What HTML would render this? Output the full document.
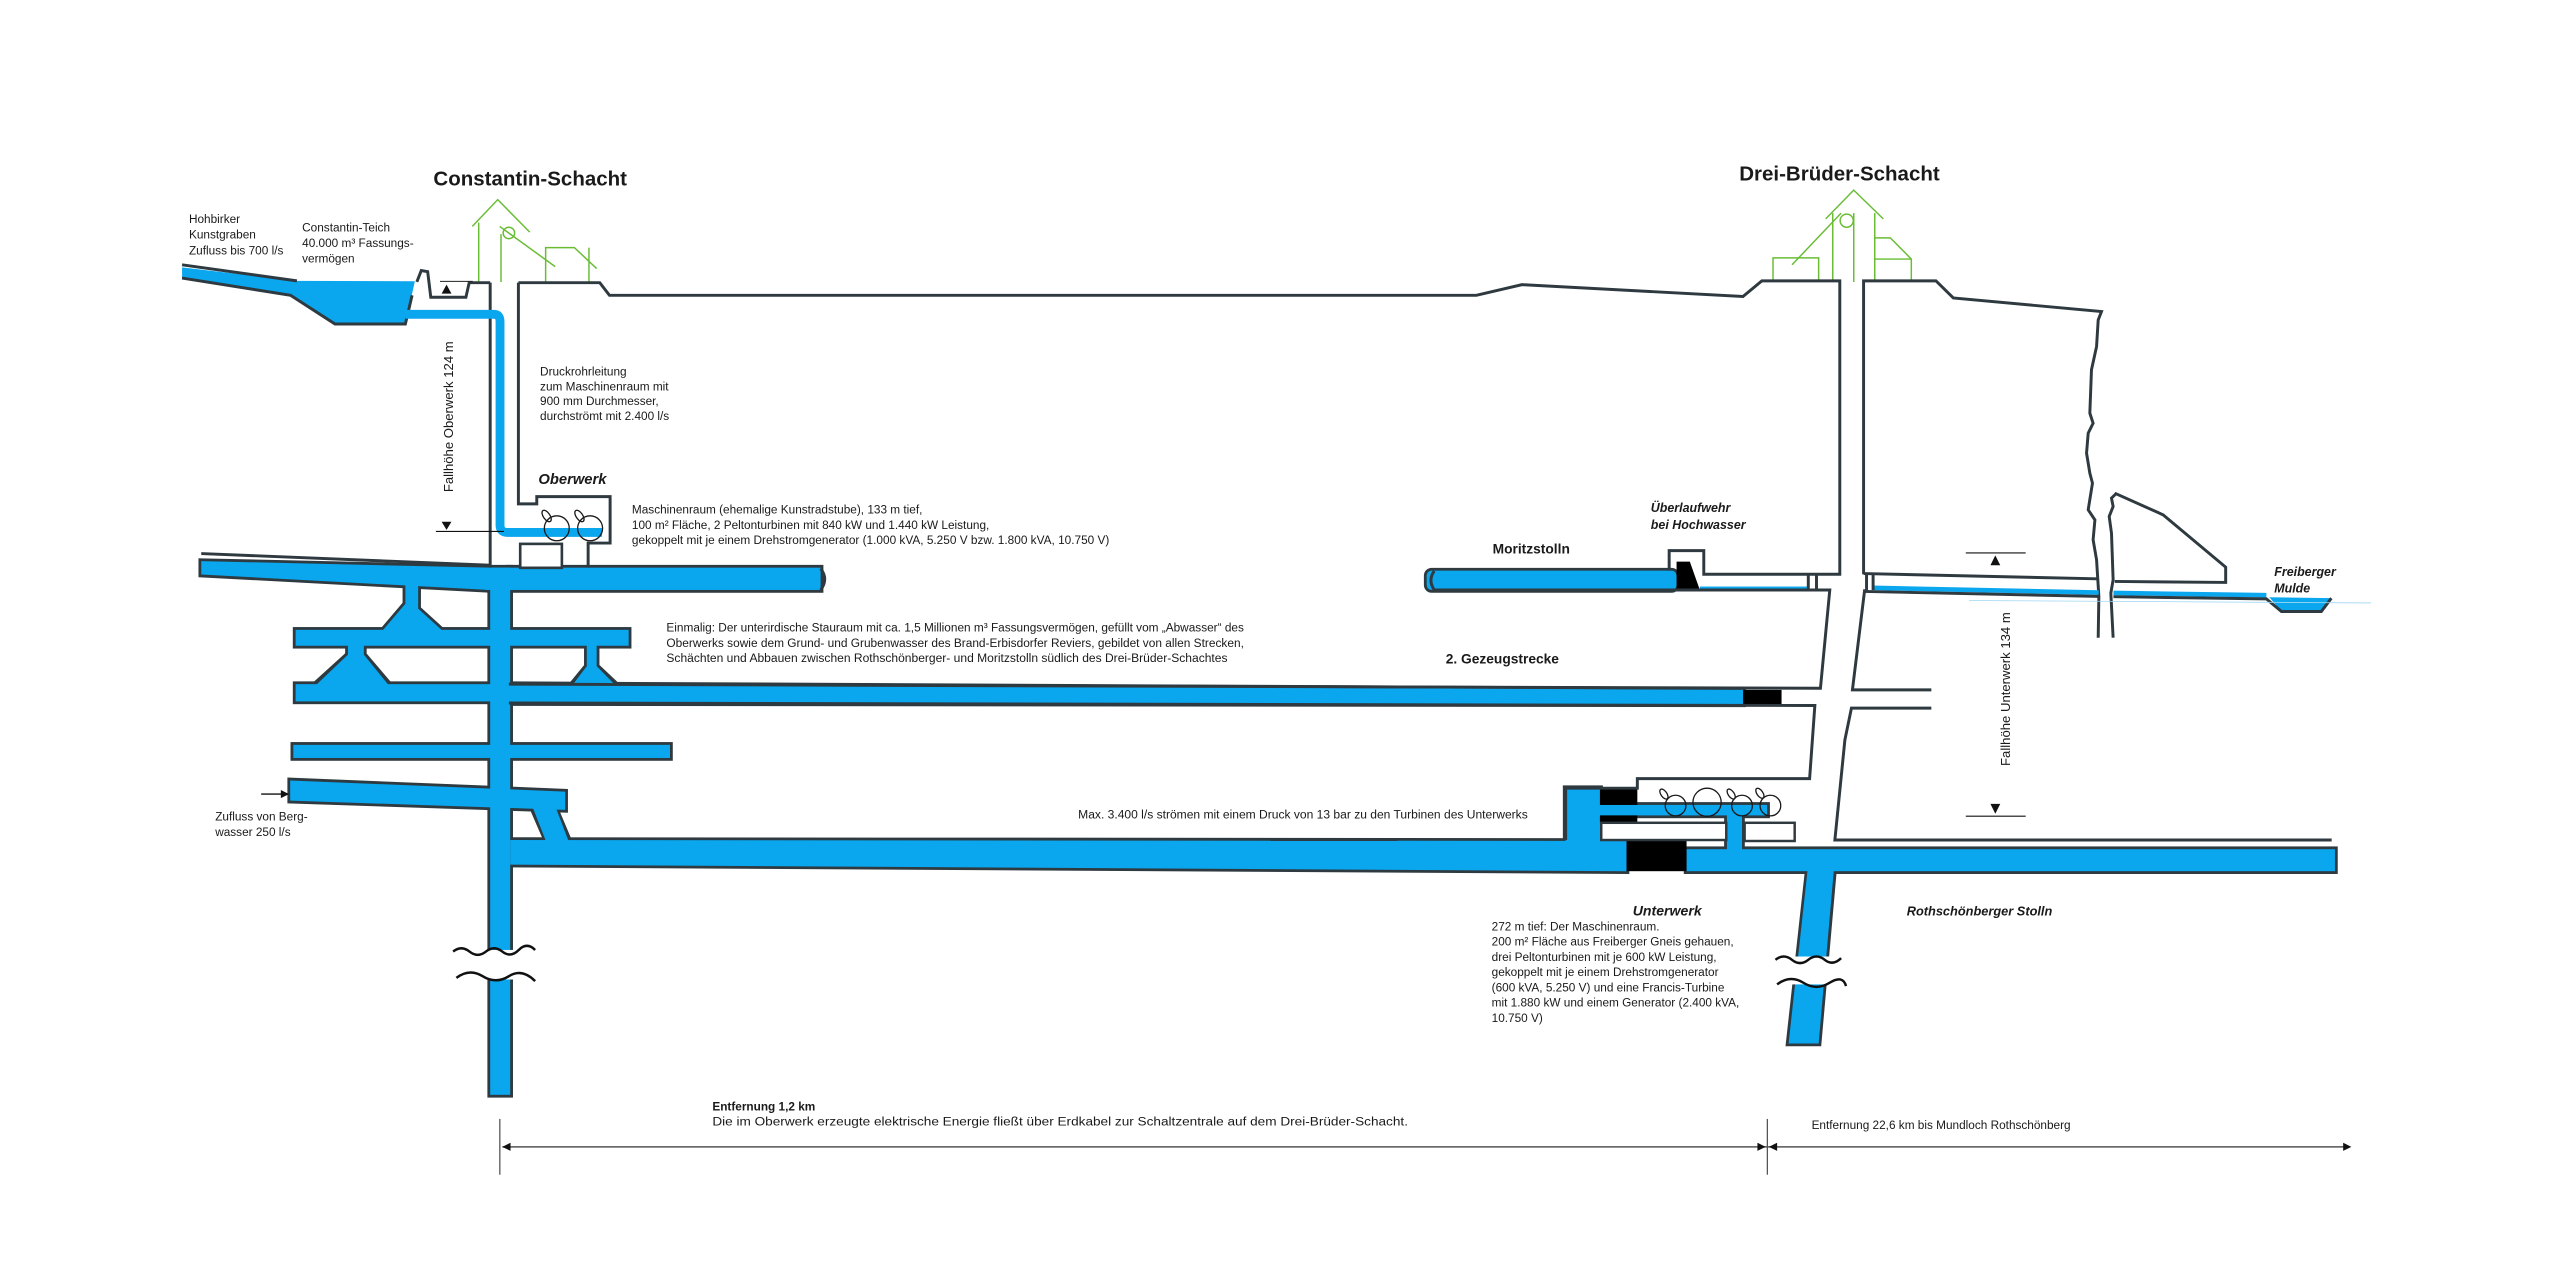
<!DOCTYPE html>
<html><head><meta charset="utf-8"><style>
html,body{margin:0;padding:0;background:#fff;}
svg{display:block;}
text{font-family:"Liberation Sans",Arial,sans-serif;fill:#1a1a1a;}
.b{font-weight:bold;}
.bi{font-weight:bold;font-style:italic;}
.o{fill:none;stroke:#2e3a40;stroke-width:1.8;stroke-linejoin:miter;}
.g{fill:none;stroke:#69bd35;stroke-width:0.9;}
</style></head><body>
<svg width="2560" height="1283" viewBox="0 0 1560 782" xmlns="http://www.w3.org/2000/svg">
<rect x="0" y="0" width="1560" height="782" fill="#fff"/>

<text x="323" y="113" class="b" font-size="12.5" text-anchor="middle">Constantin-Schacht</text>
<text x="1121" y="110" class="b" font-size="12.5" text-anchor="middle">Drei-Brüder-Schacht</text>

<g class="g">
<path d="M287.7,138 L303.2,121.7 L322.7,141.5"/>
<path d="M291.6,135.7 V171.9 M305.2,142.7 V171.9 M304.4,138 L338.2,162.5"/>
<circle cx="310" cy="142" r="3.5"/>
<path d="M332.4,171.9 V150.9 H349.9 L363.5,163.7 M358.8,150.9 V171.9"/>
</g>
<g class="g">
<path d="M1112.6,133.4 L1129.7,115.9 L1147.7,133.4"/>
<path d="M1092.1,161.4 L1122,129.9 M1116.9,129.9 V171.9 M1129.7,129.9 V171.9 M1142.5,129.9 V171.9"/>
<circle cx="1125.4" cy="134.5" r="4"/>
<path d="M1080.5,171.2 V157.2 H1108.3 V171.2"/>
<path d="M1142.5,145 H1152 L1164.8,157.9 V171.2 M1142.5,157.9 H1164.8"/>
</g>

<polygon points="110.8,163 180.8,171.2 252.7,171.4 246.9,197.5 204,197.5 176.9,180 110.8,169.5" fill="#0aa6ee"/>
<path class="o" d="M110.8,161.4 L180.8,171.2"/>
<path class="o" d="M110.8,169.5 L176.9,180 L204,197.5 H246.9 L251,180"/>
<path class="o" d="M253.9,171.8 L256.6,164.9 L260.5,165.6 L262.4,181.2 H283.8 L285.8,172.3 H298.6"/>
<line x1="268" y1="171.5" x2="288" y2="171.5" stroke="#222" stroke-width="0.6"/>
<polygon points="272,173.5 269,179 275,179" fill="#111"/>

<g fill="#2e3a40" stroke="#2e3a40" stroke-width="3.4" stroke-linejoin="miter">
<rect x="298.6" y="346" width="12.2" height="321.3"/>
<polygon points="122.5,342 298.6,346 298.6,359.6 122.5,350.2"/>
<rect x="310" y="346" width="190" height="13.6" rx="0"/>
<polygon points="246.9,356 254.7,356 254.7,371 269,384 233.3,384 246.9,368"/>
<rect x="180" y="383.9" width="203" height="9.7"/>
<polygon points="211.9,393 221.6,393 221.6,399 237,417 192,417 211.9,399"/>
<polygon points="357.5,393 363.5,393 363.5,406 376.7,418.5 347.3,418.5 357.5,406"/>
<rect x="180" y="417" width="120" height="10.5"/>
<polygon points="310,417 1062.3,420.5 1062.3,429.3 310,428.5"/>
<rect x="178.6" y="454" width="229.6" height="8"/>
<polygon points="176.7,475.7 344.3,482.5 344.3,493.6 176.7,488"/>
<polygon points="324.5,493 338.5,493 346.5,512 332.7,512"/>
<polygon points="310.8,512 991.2,512.6 991.2,531 310.8,527"/>
<rect x="954.1" y="480.4" width="21" height="32.2"/>
<rect x="975" y="490.6" width="101.9" height="6.4"/>
<rect x="1052.4" y="497" width="9.2" height="21"/>
<rect x="1027.8" y="517.6" width="395.2" height="13.4"/>
<polygon points="1101.6,531 1117.6,531 1108.3,636 1090,636"/>
<rect x="869.4" y="347.8" width="152.3" height="11.8" rx="3"/>
</g>
<g fill="#0aa6ee">
<rect x="298.6" y="346" width="12.2" height="321.3"/>
<polygon points="122.5,342 298.6,346 298.6,359.6 122.5,350.2"/>
<rect x="296" y="346" width="204" height="13.6"/>
<polygon points="246.9,356 254.7,356 254.7,371 269,384 233.3,384 246.9,368"/>
<rect x="180" y="383.9" width="203" height="9.7"/>
<polygon points="211.9,392 221.6,392 221.6,399 237,418 192,418 211.9,399"/>
<polygon points="357.5,392 363.5,392 363.5,406 376.7,419.5 347.3,419.5 357.5,406"/>
<rect x="180" y="417" width="120" height="10.5"/>
<polygon points="300,417 1062.3,420.5 1062.3,429.3 300,428.5"/>
<rect x="178.6" y="454" width="229.6" height="8"/>
<polygon points="176.7,475.7 344.3,482.5 344.3,493.6 176.7,488"/>
<polygon points="324.5,492 338.5,492 346.5,513 332.7,513"/>
<polygon points="310.8,512 991.2,512.6 991.2,531 310.8,527"/>
<rect x="954.1" y="480.4" width="21" height="33"/>
<rect x="975" y="490.6" width="101.9" height="6.4"/>
<rect x="1052.4" y="496" width="9.2" height="23"/>
<rect x="1027.8" y="517.6" width="395.2" height="13.4"/>
<polygon points="1101.6,530 1117.6,530 1108.3,636 1090,636"/>
<rect x="869.4" y="347.8" width="152.3" height="11.8" rx="3"/>
</g>
<path class="o" d="M500,346.5 Q505,353 500,359.6" stroke-width="1.4"/>
<path class="o" d="M874,348 Q870,353.5 874,359.6" stroke-width="1.2"/>
<path class="o" d="M122.5,337.4 L298.6,344.5"/>

<rect x="1062.3" y="420.5" width="23.4" height="8.8" fill="#000"/>
<rect x="975" y="480.4" width="22.8" height="10.2" fill="#000"/>
<rect x="975" y="497" width="22.8" height="4.5" fill="#000"/>
<rect x="991.2" y="512" width="36.6" height="19" fill="#000"/>
<polygon points="1021.7,342.3 1029.8,342.3 1035.9,359.6 1021.7,359.6" fill="#000"/>
<rect x="1035.9" y="357.5" width="66" height="2.1" fill="#0aa6ee"/>

<rect x="975.8" y="501.5" width="76.2" height="10.5" fill="#fff" stroke="#2e3a40" stroke-width="1.5"/>
<rect x="1063.2" y="501.5" width="30.5" height="11.1" fill="#fff" stroke="#2e3a40" stroke-width="1.5"/>
<g fill="none" stroke="#1a1a1a" stroke-width="0.8">
<circle cx="1021.1" cy="491" r="6.3"/><ellipse cx="1014" cy="484" rx="1.8" ry="3.5" transform="rotate(-35 1014 484)"/>
<circle cx="1040.3" cy="489" r="8.6"/>
<circle cx="1061.6" cy="491" r="6.3"/><ellipse cx="1055" cy="484" rx="1.8" ry="3.5" transform="rotate(-35 1055 484)"/>
<circle cx="1078.9" cy="491" r="6.3"/><ellipse cx="1072.5" cy="483.5" rx="1.8" ry="3.5" transform="rotate(-35 1072.5 483.5)"/>
</g>

<path class="o" d="M298.6,172.3 V346"/>
<path class="o" d="M315.8,172.3 V307.1 H327 V302.7 H371.7 V331 H358.3 V346"/>
<path class="o" d="M315.8,172.3 H365.4 L371.3,180 H899.7 L927.5,173.5 L1062.2,180.7 L1073.7,171.2 H1121.2 V350 H1038.3 V335.6 H1017.2 V347.8"/>
<rect x="316.9" y="331.5" width="25.4" height="14.6" fill="#fff" stroke="#2e3a40" stroke-width="1.6"/>
<path d="M246.9,191.6 H301 Q304.6,191.6 304.6,196 V320 Q304.6,324.5 309,324.5 H366.7" fill="none" stroke="#0aa6ee" stroke-width="5.4"/>
<g fill="none" stroke="#1a1a1a" stroke-width="0.8">
<circle cx="339.2" cy="322" r="7.6"/><ellipse cx="333" cy="314.5" rx="2" ry="4" transform="rotate(-35 333 314.5)"/>
<circle cx="359.5" cy="322" r="7.6"/><ellipse cx="353" cy="314.5" rx="2" ry="4" transform="rotate(-35 353 314.5)"/>
</g>
<line x1="265.5" y1="323.9" x2="307" y2="323.9" stroke="#111" stroke-width="0.7"/>
<polygon points="269,318 275,318 272,323" fill="#111"/>
<text transform="translate(276,254) rotate(-90)" font-size="8" text-anchor="middle">Fallhöhe Oberwerk 124 m</text>

<path class="o" d="M1135.7,350 V171.2 H1179.8 L1190.4,181.6 L1280.7,189.9 L1278.7,195 L1277.7,211.2 L1274.6,225.4 L1273.6,251.8 L1275.6,258 L1272.6,264 L1271.6,276.2 L1273.6,288.4 L1275.2,294.5 L1272.6,310.7 L1276.7,316.9 L1275.6,329 L1277.7,341.2 L1279.1,363.5 L1278.7,388.7"/>
<path class="o" d="M1289.9,300.6 L1286.8,303.6 L1287.8,308.7 L1285.4,314.8 L1286.8,325 L1287.8,353.4 L1286.4,361.5 L1287.8,388.7"/>
<path class="o" d="M1288.8,300.6 L1318.3,313.8 L1356.4,345.7 V355 L1288.8,354.4"/>
<path class="o" d="M1135.7,349.6 L1278,352.8"/>
<path d="M1141,358.3 L1279,361.2 M1288,361.4 L1381.2,362.8" stroke="#0aa6ee" stroke-width="2.8" fill="none"/>
<polygon points="1383,364 1420.8,364.6 1414.7,372.7 1390.4,372.7" fill="#0aa6ee"/>
<path class="o" d="M1136.4,360.5 L1279,363.5 M1288,363.7 L1381.2,365 L1390.4,372.7 H1414.7 L1420.8,364.6" stroke-width="1.6"/>
<line x1="1200" y1="366" x2="1445" y2="367.5" stroke="#9fd6f2" stroke-width="0.5"/>
<path class="o" d="M1102,350.5 V359.6 M1107,350.5 V359.6" stroke-width="1"/>
<path class="o" d="M1137.5,350.5 V359.6 M1141.5,350.5 V359.6" stroke-width="1"/>
<path class="o" d="M873,359.6 H1115.1 L1109.4,419.5 L310,417"/>
<path class="o" d="M310,428.5 L1106,430 L1102.8,474.6 H997.8 V480.4 H954.1 V512"/>
<path class="o" d="M1136.4,359.2 L1128.9,420.5 H1177 M1177,431.6 H1128.3 L1124.3,451 L1118.2,512 H1421"/>
<line x1="1198" y1="337" x2="1234.5" y2="337" stroke="#111" stroke-width="0.7"/>
<polygon points="1216,338.5 1213,344.5 1219,344.5" fill="#111"/>
<line x1="1198" y1="497.5" x2="1234.5" y2="497.5" stroke="#111" stroke-width="0.7"/>
<polygon points="1213,490 1219,490 1216,496" fill="#111"/>
<text transform="translate(1225,420) rotate(-90)" font-size="8" text-anchor="middle">Fallhöhe Unterwerk 134 m</text>

<rect x="293" y="579" width="22" height="18" fill="#fff"/>
<path d="M276,580 q5,-4 10,0 t10,0 t10,0 t10,-1 t10,0" fill="none" stroke="#111" stroke-width="1.5"/>
<path d="M278,596 q8,-6 16,-1 t16,0 t16,3" fill="none" stroke="#111" stroke-width="1.5"/>
<rect x="1086" y="583" width="30" height="17" fill="#fff"/>
<path d="M1082,585 q5,-4 10,0 t10,0 t10,0 t10,-1" fill="none" stroke="#111" stroke-width="1.5"/>
<path d="M1083,600 q8,-6 16,-1 t16,0 t10,2" fill="none" stroke="#111" stroke-width="1.5"/>
<line x1="159" y1="484" x2="175" y2="484" stroke="#111" stroke-width="0.8"/>
<polygon points="176,484 171,481.5 171,486.5" fill="#111"/>

<line x1="304.5" y1="682" x2="304.5" y2="716" stroke="#222" stroke-width="0.6"/>
<line x1="1077" y1="682" x2="1077" y2="716" stroke="#222" stroke-width="0.6"/>
<line x1="306" y1="699" x2="1432" y2="699" stroke="#555" stroke-width="0.9"/>
<polygon points="306,699 311,696.5 311,701.5" fill="#111"/>
<polygon points="1076,699 1071,696.5 1071,701.5" fill="#111"/>
<polygon points="1078,699 1083,696.5 1083,701.5" fill="#111"/>
<polygon points="1433,699 1428,696.5 1428,701.5" fill="#111"/>

<g font-size="7.2">
<text x="115" y="136">Hohbirker</text>
<text x="115" y="145.5">Kunstgraben</text>
<text x="115" y="155">Zufluss bis 700 l/s</text>
<text x="184" y="141">Constantin-Teich</text>
<text x="184" y="150.5">40.000 m³ Fassungs-</text>
<text x="184" y="160">vermögen</text>
<text x="329" y="229">Druckrohrleitung</text>
<text x="329" y="238">zum Maschinenraum mit</text>
<text x="329" y="247">900 mm Durchmesser,</text>
<text x="329" y="256">durchströmt mit 2.400 l/s</text>
<text x="385" y="313">Maschinenraum (ehemalige Kunstradstube), 133 m tief,</text>
<text x="385" y="322.3">100 m² Fläche, 2 Peltonturbinen mit 840 kW und 1.440 kW Leistung,</text>
<text x="385" y="331.6" textLength="291" lengthAdjust="spacingAndGlyphs">gekoppelt mit je einem Drehstromgenerator (1.000 kVA, 5.250 V bzw. 1.800 kVA, 10.750 V)</text>
<text x="406" y="385" textLength="352" lengthAdjust="spacingAndGlyphs">Einmalig: Der unterirdische Stauraum mit ca. 1,5 Millionen m³ Fassungsvermögen, gefüllt vom „Abwasser“ des</text>
<text x="406" y="394.3" textLength="352" lengthAdjust="spacingAndGlyphs">Oberwerks sowie dem Grund- und Grubenwasser des Brand-Erbisdorfer Reviers, gebildet von allen Strecken,</text>
<text x="406" y="403.6" textLength="342" lengthAdjust="spacingAndGlyphs">Schächten und Abbauen zwischen Rothschönberger- und Moritzstolln südlich des Drei-Brüder-Schachtes</text>
<text x="131" y="500">Zufluss von Berg-</text>
<text x="131" y="509.5">wasser 250 l/s</text>
<text x="657" y="499" textLength="274" lengthAdjust="spacingAndGlyphs">Max. 3.400 l/s strömen mit einem Druck von 13 bar zu den Turbinen des Unterwerks</text>
<text x="909" y="567">272 m tief: Der Maschinenraum.</text>
<text x="909" y="576.3">200 m² Fläche aus Freiberger Gneis gehauen,</text>
<text x="909" y="585.6">drei Peltonturbinen mit je 600 kW Leistung,</text>
<text x="909" y="594.9">gekoppelt mit je einem Drehstromgenerator</text>
<text x="909" y="604.2">(600 kVA, 5.250 V) und eine Francis-Turbine</text>
<text x="909" y="613.5">mit 1.880 kW und einem Generator (2.400 kVA,</text>
<text x="909" y="622.8">10.750 V)</text>
<text x="434" y="686" textLength="424" lengthAdjust="spacingAndGlyphs">Die im Oberwerk erzeugte elektrische Energie fließt über Erdkabel zur Schaltzentrale auf dem Drei-Brüder-Schacht.</text>
<text x="1104" y="688">Entfernung 22,6 km bis Mundloch Rothschönberg</text>
</g>
<text x="434" y="677" class="b" font-size="7.2">Entfernung 1,2 km</text>
<text x="328" y="295" class="bi" font-size="9">Oberwerk</text>
<text x="909.6" y="337.5" class="b" font-size="8.4">Moritzstolln</text>
<text x="881" y="404.5" class="b" font-size="8.4">2. Gezeugstrecke</text>
<text x="1006" y="312" class="bi" font-size="7.6">Überlaufwehr</text>
<text x="1006" y="322.5" class="bi" font-size="7.6">bei Hochwasser</text>
<text x="1386" y="351" class="bi" font-size="7.6">Freiberger</text>
<text x="1386" y="361" class="bi" font-size="7.6">Mulde</text>
<text x="995" y="558" class="bi" font-size="8.6">Unterwerk</text>
<text x="1162" y="558" class="bi" font-size="7.8">Rothschönberger Stolln</text>
</svg>
</body></html>
